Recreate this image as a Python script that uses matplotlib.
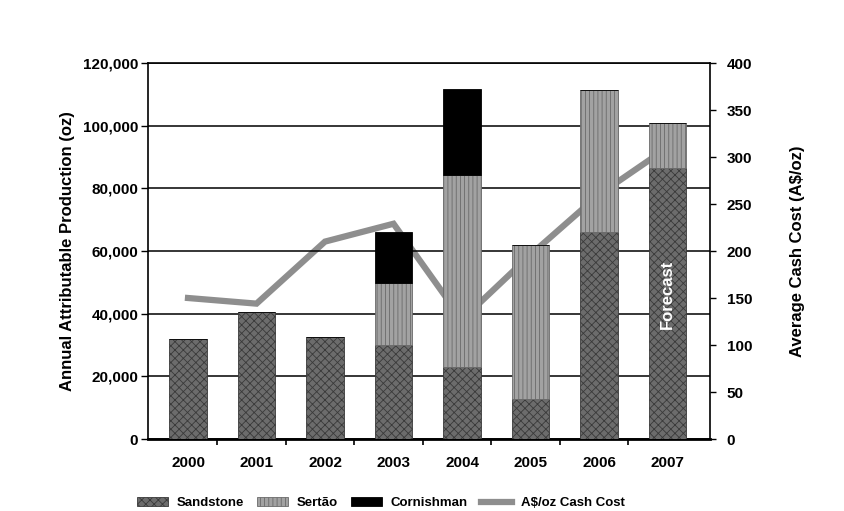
"""Annual attributable production by mine with average cash cost line."""

import matplotlib

matplotlib.use("Agg")
import matplotlib.pyplot as plt
from matplotlib.ticker import FuncFormatter
import numpy as np

plt.rcParams["font.family"] = ["Liberation Sans", "DejaVu Sans"]
plt.rcParams["font.weight"] = "bold"
plt.rcParams["hatch.linewidth"] = 0.6

years = ["2000", "2001", "2002", "2003", "2004", "2005", "2006", "2007"]
sandstone = [32000, 40500, 32500, 30000, 23100, 12800, 66200, 86400]
sertao = [0, 0, 0, 19900, 61200, 49000, 45200, 14400]
cornishman = [0, 0, 0, 16300, 27500, 0, 0, 0]
cash_cost = [150, 144, 210, 229, 127, 196, 260, 310]

left_ticks = [0, 20000, 40000, 60000, 80000, 100000, 120000]
right_ticks = [0, 50, 100, 150, 200, 250, 300, 350, 400]

x = np.arange(len(years))
width = 0.55

fig = plt.figure(figsize=(8.45, 5.11), dpi=100)
ax1 = fig.add_axes([148 / 845, 1 - 439 / 511, (710 - 148) / 845, (439 - 63) / 511])
ax2 = ax1.twinx()
ax1.set_zorder(2)
ax1.patch.set_visible(False)
ax2.set_zorder(1)

# stacked bars
bottom2 = np.array(sandstone)
bottom3 = bottom2 + np.array(sertao)
ax1.bar(x, sandstone, width, color="#6c6c6c", edgecolor="#3a3a3a",
        hatch="xxxx", linewidth=0.6, label="Sandstone", zorder=3)
ax1.bar(x, sertao, width, bottom=bottom2, color="#a2a2a2", edgecolor="#6a6a6a",
        hatch="||||", linewidth=0.6, label="Sertão", zorder=3)
ax1.bar(x, cornishman, width, bottom=bottom3, color="black", edgecolor="black",
        linewidth=0.6, label="Cornishman", zorder=3)

# cash cost line (sits behind the bars like the original)
ax2.plot(x, cash_cost, color="#8e8e8e", linewidth=4.5, solid_joinstyle="miter",
         label="A$/oz Cash Cost")

ax1.set_xlim(-0.584, 7.62)
ax1.set_ylim(0, 120000)
ax2.set_ylim(0, 400)
ax1.set_yticks(left_ticks)
ax2.set_yticks(right_ticks)
ax1.yaxis.set_major_formatter(FuncFormatter(lambda v, p: f"{int(v):,}"))

ax1.grid(axis="y", color="black", linewidth=1.1, zorder=0)
ax1.set_axisbelow(True)

ax1.set_xticks(x)
ax1.set_xticklabels(years)
ax1.tick_params(axis="x", length=0, pad=12, labelsize=11)
ax1.set_xticks(x[:-1] + 0.43, minor=True)
ax1.tick_params(axis="x", which="minor", length=4, width=1.2, direction="out")
ax1.tick_params(axis="y", length=5, width=1.0, pad=2, labelsize=11)
ax2.tick_params(axis="y", length=4, width=1.0, pad=8, labelsize=11)

for spine in ax1.spines.values():
    spine.set_color("black")
    spine.set_linewidth(1.2)
ax1.spines["bottom"].set_linewidth(2.0)
for spine in ax2.spines.values():
    spine.set_visible(False)

ax1.set_ylabel("Annual Attributable Production (oz)", fontsize=12,
               fontweight="bold", labelpad=6)
ax2.set_ylabel("Average Cash Cost (A$/oz)", fontsize=12, fontweight="bold",
               labelpad=27)

ax1.text(7, 46000, "Forecast", rotation=90, color="white", fontsize=12,
         fontweight="bold", ha="center", va="center", zorder=5)

h1, l1 = ax1.get_legend_handles_labels()
h2, l2 = ax2.get_legend_handles_labels()
fig.legend(h1 + h2, l1 + l2, loc="center", bbox_to_anchor=(381 / 845, 1 - 503 / 511),
           ncol=4, frameon=False, fontsize=9.5, handlelength=2.3,
           handletextpad=0.7, columnspacing=1.0)

fig.savefig("out.png", dpi=100)
plt.close(fig)
